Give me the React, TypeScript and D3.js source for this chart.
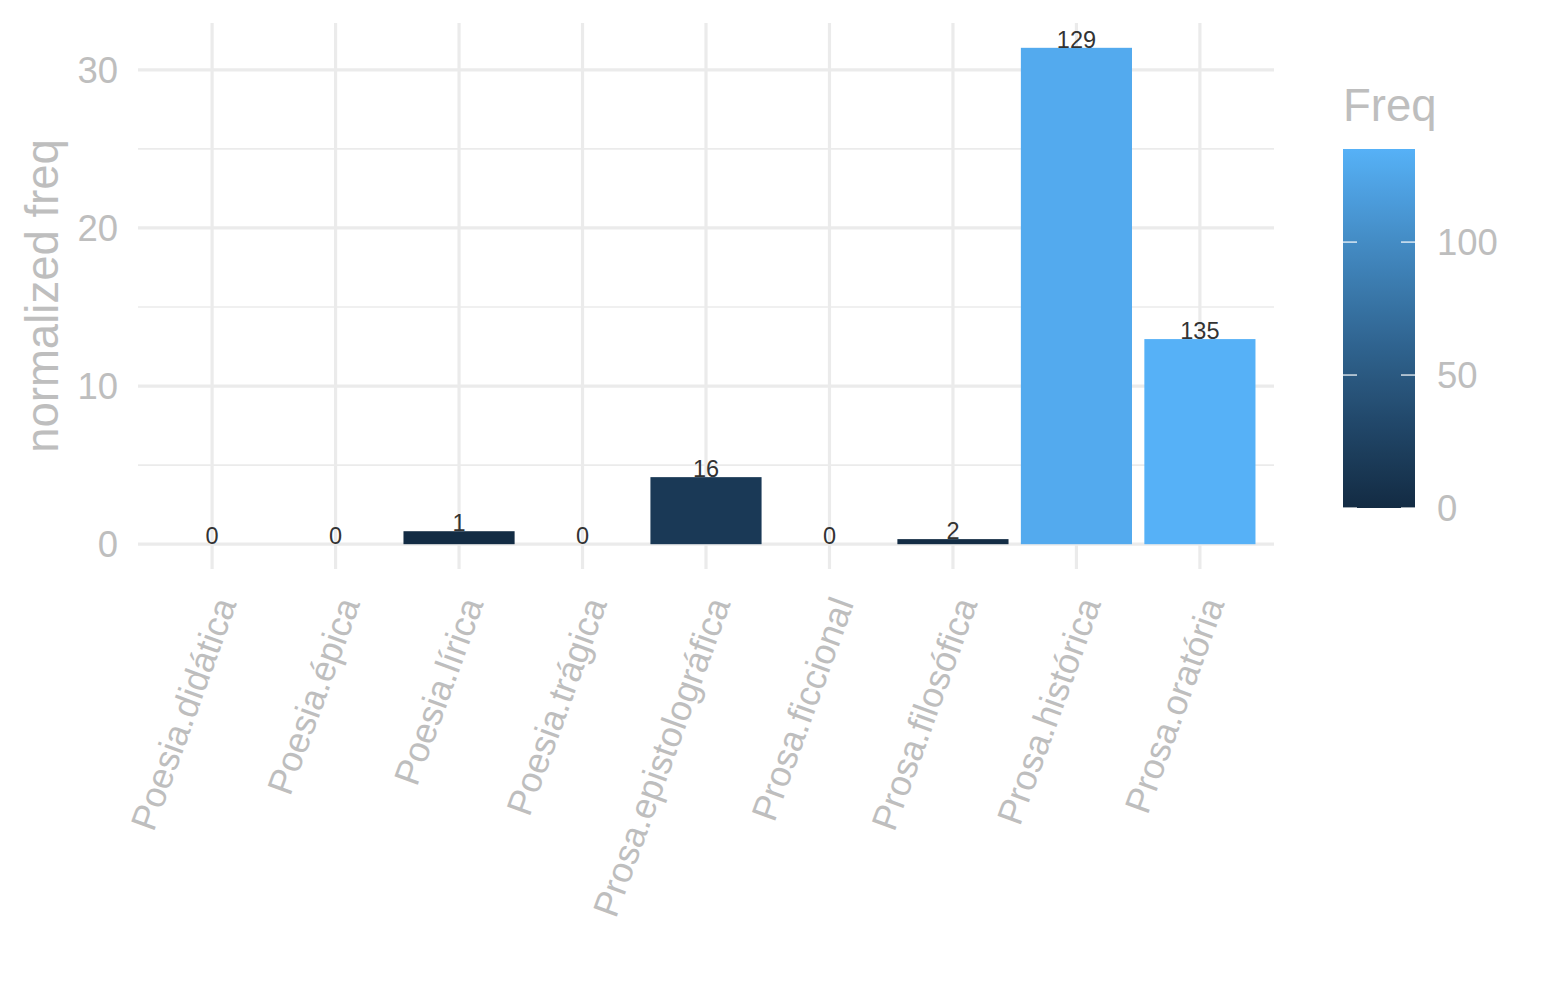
import React from 'react';
import * as d3 from 'd3';

// genre categories (x axis)
const categories = [
  'Poesia.didática',
  'Poesia.épica',
  'Poesia.lírica',
  'Poesia.trágica',
  'Prosa.epistolográfica',
  'Prosa.ficcional',
  'Prosa.filosófica',
  'Prosa.histórica',
  'Prosa.oratória',
];
// normalized frequency (bar height)
const normFreq = [0, 0, 0.82, 0, 4.24, 0, 0.32, 31.39, 12.97];
// raw frequency (fill + label)
const freq = [0, 0, 1, 0, 16, 0, 2, 129, 135];

const yMajor = [0, 10, 20, 30];
const yMinor = [5, 15, 25];
const legendTicks = [0, 50, 100];

const W = 1545;
const H = 1000;
const FONT = '"Liberation Sans", Arial, Helvetica, sans-serif';
const GREY = '#BEBEBE';
const GRID = '#EBEBEB';
const TICK_SIZE = 36.5;
const TITLE_SIZE = 45.5;

export default function App() {
  const panel = { left: 138, right: 1274, top: 23, bottom: 569 };

  const yMax = d3.max(normFreq) as number;
  const pad = yMax * 0.05;
  const y = d3.scaleLinear().domain([-pad, yMax + pad]).range([panel.bottom, panel.top]);

  const x = d3
    .scaleBand<string>()
    .domain(categories)
    .range([panel.left, panel.right])
    .paddingInner(0.1)
    .paddingOuter(0.15);

  const fMax = d3.max(freq) as number;
  const color = d3
    .scaleLinear<string>()
    .domain([0, fMax])
    .range(['#132B43', '#56B1F7'])
    .interpolate(d3.interpolateLab);

  // colour bar
  const bar = { x: 1343, w: 72, top: 149, bottom: 508 };
  const cy = d3.scaleLinear().domain([0, fMax]).range([bar.bottom, bar.top]);
  const stops = d3.range(0, 1.0001, 0.05);

  return (
    <svg width={W} height={H} style={{ display: 'block', background: '#fff', fontFamily: FONT }}>
      <style>{`body{margin:0}`}</style>
      <defs>
        <linearGradient id="freqGrad" x1="0" y1="1" x2="0" y2="0">
          {stops.map((t) => (
            <stop key={t} offset={t} stopColor={color(t * fMax)} />
          ))}
        </linearGradient>
      </defs>

      {/* grid */}
      <g>
        {yMinor.map((v) => (
          <line key={'mn' + v} x1={panel.left} x2={panel.right} y1={y(v)} y2={y(v)} stroke={GRID} strokeWidth={1.6} />
        ))}
        {yMajor.map((v) => (
          <line key={'mj' + v} x1={panel.left} x2={panel.right} y1={y(v)} y2={y(v)} stroke={GRID} strokeWidth={3.2} />
        ))}
        {categories.map((c) => {
          const cx = (x(c) as number) + x.bandwidth() / 2;
          return <line key={'vx' + c} x1={cx} x2={cx} y1={panel.top} y2={panel.bottom} stroke={GRID} strokeWidth={3.2} />;
        })}
      </g>

      {/* bars */}
      <g>
        {categories.map((c, i) => (
          <rect
            key={c}
            x={x(c)}
            width={x.bandwidth()}
            y={y(normFreq[i])}
            height={y(0) - y(normFreq[i])}
            fill={color(freq[i])}
          />
        ))}
      </g>

      {/* value labels */}
      <g fontSize={23.5} fill="#333333" textAnchor="middle">
        {categories.map((c, i) => (
          <text key={'lb' + c} x={(x(c) as number) + x.bandwidth() / 2} y={y(normFreq[i])}>
            {freq[i]}
          </text>
        ))}
      </g>

      {/* y axis */}
      <g fontSize={TICK_SIZE} fill={GREY} textAnchor="end">
        {yMajor.map((v) => (
          <text key={'yt' + v} x={118} y={y(v)} dy="0.36em">
            {v}
          </text>
        ))}
      </g>
      <text
        transform={`translate(58,${(panel.top + panel.bottom) / 2}) rotate(-90)`}
        textAnchor="middle"
        fontSize={TITLE_SIZE}
        fill={GREY}
      >
        normalized freq
      </text>

      {/* x axis */}
      <g fontSize={36} fill={GREY} textAnchor="end">
        {categories.map((c) => {
          const cx = (x(c) as number) + x.bandwidth() / 2;
          return (
            <text key={'xt' + c} transform={`translate(${cx + 13},599) rotate(-70)`} dy="0.35em">
              {c}
            </text>
          );
        })}
      </g>

      {/* legend */}
      <text x={bar.x} y={121} fontSize={TITLE_SIZE} fill={GREY}>
        Freq
      </text>
      <rect x={bar.x} y={bar.top} width={bar.w} height={bar.bottom - bar.top} fill="url(#freqGrad)" />
      {legendTicks.map((v) => (
        <g key={'lg' + v}>
          <line x1={bar.x} x2={bar.x + 14} y1={cy(v)} y2={cy(v)} stroke="#fff" strokeWidth={1.2} />
          <line x1={bar.x + bar.w - 14} x2={bar.x + bar.w} y1={cy(v)} y2={cy(v)} stroke="#fff" strokeWidth={1.2} />
          <text x={1437} y={cy(v)} dy="0.36em" fontSize={TICK_SIZE} fill={GREY}>
            {v}
          </text>
        </g>
      ))}
    </svg>
  );
}
